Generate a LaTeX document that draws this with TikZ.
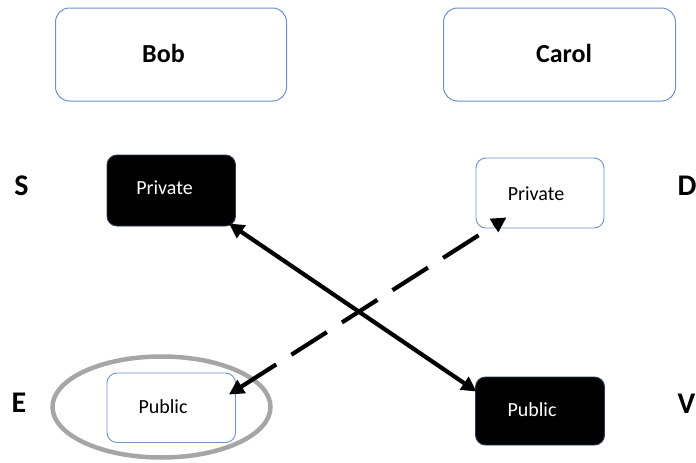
\documentclass[tikz,border=0pt]{standalone}
\usepackage{fontspec}
\setmainfont{Carlito}
\usetikzlibrary{arrows.meta,calc,shapes.geometric}
\definecolor{boxblue}{HTML}{7190C8}
\definecolor{ringgray}{HTML}{A6A6A6}
\tikzset{
  bigbox/.style={draw=boxblue, line width=1pt, rounded corners=14pt, fill=white, inner sep=0pt},
  keywhite/.style={draw=boxblue, line width=0.9pt, rounded corners=10pt, fill=white, inner sep=0pt},
  keyblack/.style={draw=boxblue!40!black, line width=0.9pt, rounded corners=10pt, fill=black, inner sep=0pt},
  nametext/.style={font=\fontsize{26}{30}\selectfont\bfseries, anchor=base},
  keytext/.style={font=\fontsize{20}{24}\selectfont, anchor=base},
  roletext/.style={font=\fontsize{30}{34}\selectfont\bfseries, anchor=base},
  link/.style={line width=4.2pt, {Triangle[length=15pt,width=15pt]}-{Triangle[length=15pt,width=15pt]}, shorten <=0pt, shorten >=0pt},
}
\begin{document}
\begin{tikzpicture}[x=1pt,y=-1pt]
\useasboundingbox (0,0) rectangle (696,463);
% top boxes
\node[bigbox, minimum width=231pt, minimum height=93pt] (bob) at (171,54.5) {};
\node[bigbox, minimum width=232pt, minimum height=93pt] (carol) at (559.5,54.5) {};
\node[nametext] (bobt) at (163.5,62) {Bob};
\node[nametext] (carolt) at (564,62) {Carol};
% ellipse
\node[draw=ringgray, line width=4.5pt, ellipse, minimum width=218pt, minimum height=101pt, inner sep=0pt] (ring) at (161.5,407) {};
% key boxes
\node[keyblack, minimum width=128.5pt, minimum height=71pt] (privS) at (171.25,190.5) {};
\node[keywhite, minimum width=128pt, minimum height=70pt] (privD) at (540,193) {};
\node[keywhite, minimum width=128.5pt, minimum height=69.5pt] (pubE) at (171.25,407.75) {};
\node[keyblack, minimum width=129pt, minimum height=68pt] (pubV) at (540,411) {};
\node[keytext, text=white] (privSt) at (164.5,194) {Private};
\node[keytext] (privDt) at (536,200) {Private};
\node[keytext] (pubEt) at (163,413) {Public};
\node[keytext, text=white] (pubVt) at (532,416) {Public};
% role letters
\node[roletext] (S) at (21.5,195) {S};
\node[roletext] (E) at (19,412) {E};
\node[roletext] (D) at (687,195) {D};
\node[roletext] (V) at (686.5,413) {V};
% connectors
\draw[link] ($(privS.south east)+(-7,-3)$) -- ($(pubV.north west)+(1.5,15)$);
\draw[link, dash pattern=on 42pt off 18pt] ($(pubE.north east)+(-7,22)$) -- ($(privD.south west)+(31,-11)$);
\end{tikzpicture}
\end{document}
